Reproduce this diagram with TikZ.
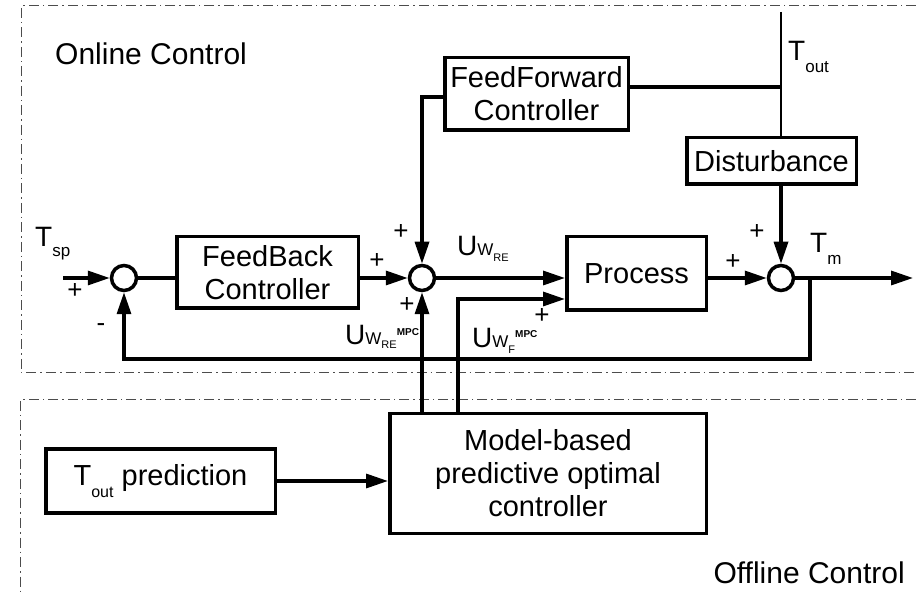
\documentclass[tikz,border=0pt]{standalone}
\usepackage{fontspec}
\setmainfont{Liberation Sans}
\usetikzlibrary{arrows.meta,calc}
\newcommand\fz[2]{\fontsize{#1}{#2}\selectfont}
\newcommand\sub[3]{\raisebox{#1}{\fz{#2}{#2}#3}}
\begin{document}
\begin{tikzpicture}[x=1pt,y=-1pt,
  blk/.style={draw,line width=3.5pt,inner sep=0pt,align=center,font=\fz{29}{33}},
  sumc/.style={draw,circle,line width=3.5pt,minimum size=25pt,inner sep=0pt},
  wire/.style={line width=3.3pt},
  arr/.style={wire,-{Triangle[length=22pt,width=14pt]}},
  frame/.style={line width=1pt,black!70,dash pattern=on 10pt off 4pt on 1.5pt off 4pt},
  pm/.style={font=\fz{26}{26},inner sep=0pt},
  lbl/.style={inner sep=0pt,anchor=base west}]
\useasboundingbox (0,0) rectangle (916,593);
% frames
\draw[frame] (916,6) -- (21,6) -- (21,373) -- (916,373);
\draw[frame] (916,400) -- (20,400) -- (20,593);
\node[lbl,font=\fz{30}{30}] (on) at (55,65) {Online Control};
\node[lbl,anchor=base east,font=\fz{30}{30}] (off) at (905,583) {Offline Control};
% blocks
\node[blk,minimum width=181.5pt,minimum height=71.5pt] (fb) at (267.5,272.5) {FeedBack\\Controller};
\node[blk,minimum width=183.5pt,minimum height=72.5pt] (ff) at (536.5,94) {FeedForward\\Controller};
\node[blk,minimum width=139.5pt,minimum height=73.5pt] (proc) at (636.5,273.5) {Process};
\node[blk,minimum width=169.5pt,minimum height=46.5pt] (dist) at (771.5,161) {Disturbance};
\node[blk,minimum width=316.5pt,minimum height=119.5pt] (mpc) at (548,473.5) {Model-based\\predictive optimal\\controller};
\node[blk,minimum width=229.5pt,minimum height=63.5pt] (tp) at (160.5,481) {T\sub{-12pt}{16}{out} prediction};
% summing junctions
\node[sumc] (s1) at (124,278) {};
\node[sumc] (s2) at (422,278) {};
\node[sumc] (s3) at (781,278) {};
% coordinates
\coordinate (tspin) at (63,278);
\coordinate (out) at (913,278);
\coordinate (fbk) at (810,278);
\coordinate (fbkb) at (810,359);
\coordinate (toutTop) at (781,12);
\coordinate (ufx) at (458,299);
% connectors
\draw[arr] (tspin) -- (s1);
\draw[wire] (s1) -- (fb.west |- s1);
\draw[arr] (fb.east |- s2) -- (s2);
\draw[arr] ($(ff.west)+(0,3)$) -| (s2);
\draw[arr] (s2) -- (s2 -| proc.west);
\draw[arr] (mpc.north -| s2) -- (s2);
\draw[arr] (mpc.north -| ufx) |- (ufx -| proc.west);
\draw[arr] (proc.east |- s3) -- (s3);
\draw[arr] (s3) -- (out);
\draw[arr] (fbk) -- (fbkb) -| (s1);
\draw[line width=2.7pt] (toutTop) -- (toutTop |- dist.north);
\draw[wire] ($(ff.east)+(0,-7)$) -- ($(ff.east -| toutTop)+(0,-7)$);
\draw[arr] (dist.south -| s3) -- (s3);
\draw[arr] (tp.east) -- (tp.east -| mpc.west);
% signal labels
\node[lbl] (tsp) at (35,247) {\fz{28}{28}T\sub{-10pt}{17}{sp}};
\node[lbl] (tm) at (810,253) {\fz{28}{28}T\sub{-12pt}{17}{m}};
\node[lbl] (tout) at (788,61) {\fz{28}{28}T\sub{-12pt}{17}{out}};
\node[lbl] (uwre) at (457,256) {\fz{28}{28}U\fz{17}{17}W\sub{-6pt}{11}{RE}};
\node[lbl] (uwrempc) at (345,345) {\fz{28}{28}U\fz{17}{17}W\sub{-4pt}{11}{RE}\sub{9pt}{10}{\bfseries MPC}};
\node[lbl] (uwfmpc) at (472,348) {\fz{28}{28}U\fz{17}{17}W\sub{-6pt}{11}{F}\sub{10pt}{10}{\bfseries MPC}};
% signs
\node[pm] (p1) at (75,291) {+};
\node[pm] (m1) at (101,328) {-};
\node[pm] (p2) at (377,261) {+};
\node[pm] (p3) at (401,232) {+};
\node[pm] (p4) at (407,305) {+};
\node[pm] (p5) at (542,316) {+};
\node[pm] (p6) at (733,262) {+};
\node[pm] (p7) at (757,232) {+};
\end{tikzpicture}
\end{document}
